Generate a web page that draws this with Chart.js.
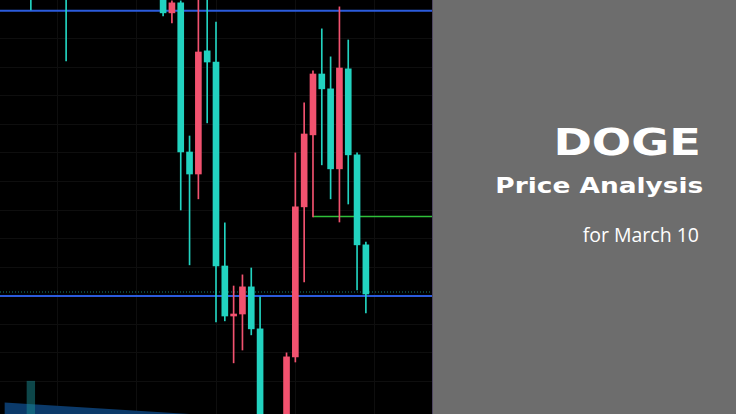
<!DOCTYPE html>
<html>
<head>
<meta charset="utf-8">
<script src="https://cdn.jsdelivr.net/npm/chart.js@4/dist/chart.umd.min.js"></script>
<style>
  html, body { margin: 0; padding: 0; background: #000; overflow: hidden; }
  #wrap { position: absolute; left: 0; top: 0; width: 432px; height: 414px; background: #000; }
  #side { position: absolute; left: 432px; top: 0; width: 304px; height: 414px; background: #6d6d6d; border-left: 1px solid #4e4660; box-sizing: border-box; }
  .t { position: absolute; color: #fff; white-space: nowrap; transform-origin: right center; }
  #t1 { right: 35px; top: 123px; font-family: "DejaVu Sans"; font-weight: bold; font-size: 38px; line-height: 38px; transform: scaleX(1.22); }
  #t2 { right: 33px; top: 175px; font-family: "DejaVu Sans"; font-weight: bold; font-size: 22px; line-height: 22px; transform: scaleX(1.2); }
  #t3 { right: 37px; top: 225px; font-family: "Open Sans"; font-size: 19.5px; line-height: 19.5px; }
</style>
</head>
<body>
<div id="wrap"><canvas id="myChart"></canvas></div>
<div id="side">
  <div class="t" id="t1">DOGE</div>
  <div class="t" id="t2">Price Analysis</div>
  <div class="t" id="t3">for March 10</div>
</div>
<script>
// candle slots (time index), most are off screen
const labels = '0 1 2 3 4 5 6 7 8 9 10 11 12 13 14 15 16 17 18 19 20 21 22 23 24 25 26 27 28 29 30 31 32 33 34 35 36 37 38 39 40 41 42 43 44 45 46 47 48'.split(' ');
const N = null;

// OHLC (DOGE/USDT)
const opens  = [N,N,N,0.13275,N,N,N,0.13240,N,N, N,N,N,N,N,N,N,N,0.13153,0.13090,
  0.13125,0.12603,0.12526,0.12957,0.12918,0.12204,0.12029,0.12036,0.12131,0.11984,
  N,N,0.11595,0.11886,0.12411,0.12663,0.12876,0.12824,0.12544,0.12894,
  0.12593,0.12278,N,N,N,N,N,N,N];
const highs  = [N,N,N,0.13310,N,N,N,0.13258,N,N, N,N,N,N,N,N,N,N,0.13170,0.13132,
  0.13132,0.12659,0.13153,0.13153,0.13058,0.12355,0.12134,0.12173,0.12197,0.12096,
  N,N,0.11900,0.12600,0.12775,0.12887,0.13034,0.12936,0.13111,0.12995,
  0.12600,0.12288,N,N,N,N,N,N,N];
const lows   = [N,N,N,0.13100,N,N,N,0.12922,N,N, N,N,N,N,N,N,N,N,0.13079,0.13055,
  0.12400,0.12208,0.12439,0.12705,0.12008,0.12012,0.11865,0.11910,0.11963,0.11525,
  N,N,0.11525,0.11868,0.12148,0.12376,0.12558,0.12439,0.12358,0.12421,
  0.12120,0.12040,N,N,N,N,N,N,N];
const closes = [N,N,N,0.13205,N,N,N,0.13170,N,N, N,N,N,N,N,N,N,N,0.13090,0.13125,
  0.12603,0.12526,0.12953,0.12918,0.12204,0.12029,0.12036,0.12131,0.11984,0.11595,
  N,N,0.11886,0.12411,0.12666,0.12876,0.12824,0.12544,0.12897,0.12593,
  0.12278,0.12106,N,N,N,N,N,N,N];

// volume pane (only one bar reaches into view) and the blue profile at the bottom
const volume  = [N,N,N,8.0,N,N,N,N,N,N, N,N,N,N,N,N,N,N,N,N, N,N,N,N,N,N,N,N,N,N, N,N,N,N,N,N,N,N,N,N, N,N,N,N,N,N,N,N,N];
const profile = [2.8,N,N,N,N,N,N,N,N,N, N,N,N,N,N,N,N,N,N,N, N,0,N,N,N,N,N,N,N,N, N,N,N,N,N,N,N,N,N,N, N,N,N,N,N,N,N,N,N];

// drawn levels
const blueLevels = [0.13097, 0.12099];
const greenLevel = 0.12377;
const greenFrom = 35;
const lastPrice = 0.12106;

const yMin = 0.11686;
const yMax = 0.13135;

const UP = '#f2526f';
const DOWN = '#22d3c0';
const candleColor = c => {
  const i = c.dataIndex;
  return closes[i] >= opens[i] ? UP : DOWN;
};

const levelLines = {
  id: 'levelLines',
  beforeDatasetsDraw(chart) {
    const { ctx, chartArea, scales } = chart;
    ctx.save();
    // last price, dotted
    let y = scales.y.getPixelForValue(lastPrice);
    ctx.strokeStyle = 'rgba(34,211,192,0.6)';
    ctx.lineWidth = 1;
    ctx.setLineDash([1, 2]);
    ctx.beginPath();
    ctx.moveTo(chartArea.left, y - 2);
    ctx.lineTo(chartArea.right, y - 2);
    ctx.stroke();
    ctx.setLineDash([]);
    // blue horizontal levels
    ctx.strokeStyle = '#2b5bdc';
    ctx.lineWidth = 2;
    blueLevels.forEach(v => {
      const yy = scales.y.getPixelForValue(v);
      ctx.beginPath();
      ctx.moveTo(chartArea.left, yy);
      ctx.lineTo(chartArea.right, yy);
      ctx.stroke();
    });
    // green level from the candle where it was placed
    y = scales.y.getPixelForValue(greenLevel);
    ctx.strokeStyle = '#2fbf3a';
    ctx.lineWidth = 1.5;
    ctx.beginPath();
    ctx.moveTo(scales.x.getPixelForValue(greenFrom), y);
    ctx.lineTo(chartArea.right, y);
    ctx.stroke();
    ctx.restore();
  }
};

const ctx = document.getElementById('myChart');

new Chart(ctx, {
  type: 'bar',
  data: {
    labels: labels,
    datasets: [
      {
        label: 'body',
        data: opens.map((o, i) => o == null ? null : [o, closes[i]]),
        backgroundColor: candleColor,
        barThickness: 6,
        minBarLength: 1,
        grouped: false,
        order: 1
      },
      {
        label: 'wick',
        data: lows.map((l, i) => l == null ? null : [l, highs[i]]),
        backgroundColor: candleColor,
        barThickness: 1,
        grouped: false,
        order: 2
      },
      {
        label: 'volume',
        data: volume,
        yAxisID: 'yv',
        backgroundColor: 'rgba(26,140,145,0.5)',
        barPercentage: 0.95,
        categoryPercentage: 1,
        grouped: false,
        order: 3
      },
      {
        type: 'line',
        label: 'profile',
        data: profile,
        yAxisID: 'yv',
        spanGaps: true,
        borderWidth: 0,
        pointRadius: 0,
        fill: 'origin',
        backgroundColor: '#0b3a6a',
        order: 4
      }
    ]
  },
  options: {
    responsive: true,
    maintainAspectRatio: false,
    animation: false,
    devicePixelRatio: 1,
    layout: { padding: 0 },
    plugins: { legend: { display: false }, tooltip: { enabled: false } },
    scales: {
      x: {
        ticks: { display: false },
        border: { display: false },
        grid: {
          offset: false,
          drawTicks: false,
          color: c => ((c.index - 6) % 9 === 0 ? '#0e0e0e' : 'rgba(0,0,0,0)')
        }
      },
      y: {
        min: yMin,
        max: yMax,
        ticks: { display: false, stepSize: 0.001 },
        border: { display: false },
        grid: { drawTicks: false, color: '#0e0e0e' },
        afterBuildTicks: axis => {
          axis.ticks = axis.ticks.filter(t => t.value > yMin + 0.0002 && t.value < yMax - 0.0002);
        }
      },
      yv: { display: false, min: 0, max: 100 }
    }
  },
  plugins: [levelLines]
});
</script>
</body>
</html>
